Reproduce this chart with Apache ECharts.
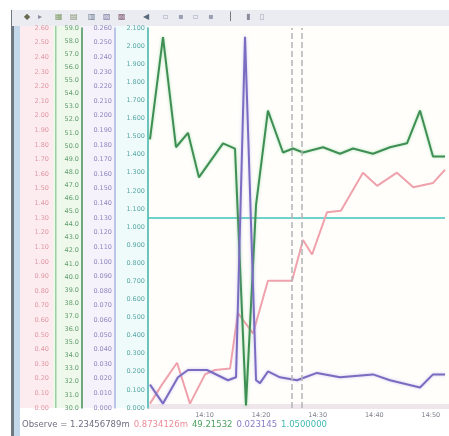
<!DOCTYPE html>
<html>
<head>
<meta charset="utf-8">
<script src="https://cdn.jsdelivr.net/npm/echarts@6/dist/echarts.min.js"></script>
<style>
html,body{margin:0;padding:0;background:#fff;}
#c{width:449px;height:436px;}
</style>
</head>
<body>
<div id="c"></div>
<script>
// ---- data ----
var pinkX  = [0.35, 2.47, 5.13, 7.42, 10.08, 11.85, 14.5, 15.9, 18.56, 21.2, 25.46, 27.4, 29.0, 31.65, 34.1, 38.0, 40.5, 44.0, 46.9, 50.4, 52.5];
var pinkY  = [0.03, 0.16, 0.31, 0.03, 0.23, 0.26, 0.27, 0.65, 0.51, 0.87, 0.87, 1.15, 1.05, 1.34, 1.35, 1.61, 1.52, 1.61, 1.51, 1.54, 1.63];

var greenX = [0.35, 2.65, 4.95, 7.07, 9.0, 13.26, 15.38, 17.32, 19.1, 21.2, 23.86, 25.63, 27.4, 30.94, 33.94, 36.24, 39.77, 42.78, 45.78, 48.08, 50.38, 52.5];
var greenY = [50.5, 58.3, 49.9, 51.0, 47.6, 50.2, 49.8, 30.2, 45.5, 52.7, 49.5, 49.8, 49.5, 49.9, 49.4, 49.8, 49.4, 49.9, 50.2, 52.7, 49.2, 49.2];

var purpleX = [0.35, 2.65, 5.3, 7.07, 10.43, 14.14, 15.56, 17.15, 19.1, 19.8, 21.2, 23.33, 26.34, 29.87, 33.94, 39.77, 42.78, 48.08, 50.38, 52.5];
var purpleY = [0.016, 0.003, 0.021, 0.026, 0.026, 0.019, 0.021, 0.254, 0.019, 0.017, 0.025, 0.021, 0.019, 0.024, 0.021, 0.023, 0.019, 0.014, 0.023, 0.023];

var cyanX = [0, 52.5];
var cyanY = [1.05, 1.05];

var markerX = [25.45, 27.2];

var xTickLabels = ['14:10', '14:20', '14:30', '14:40', '14:50'];

var legendTexts = ['Observe = 1.23456789m', '0.8734126m', '49.21532', '0.023145', '1.0500000'];

var toolbarGlyphs = ['◆', '▸', '▦', '▤', '▥', '▧', '▩', '◀', '▫', '▪', '▫', '▪', '▏', '▮', '▯'];

// ---- chart ----
function zip(xs, ys){ var r=[]; for (var i=0;i<xs.length;i++) r.push([xs[i], ys[i]]); return r; }

var cPink='#f0a2ac', cGreen='#3f8f55', cPurple='#7a6cc0', cCyan='#3fc4bb';

var chart = echarts.init(document.getElementById('c'), null, {renderer:'canvas'});

function yAxis(color, lineColor, offset, min, max, interval, dec){
  return {
    type:'value', position:'left', offset:offset, min:min, max:max, interval:interval,
    axisLine:{show:true, lineStyle:{color:lineColor, width:1.5}},
    axisTick:{show:false},
    splitLine:{show:false},
    axisLabel:{fontSize:6.5, color:color, margin:3, fontFamily:'DejaVu Sans',
      formatter:function(v){ return v.toFixed(dec); }}
  };
}

var toolbarEls = [];
toolbarEls.push({type:'rect', shape:{x:12,y:10,width:437,height:16}, style:{fill:'#ebebf2'}, z:-1});
var tbx = [24,38,55,70,88,103,118,143,163,178,193,208,230,246,260];
var tbc = ['#6a6a50','#8a8aa0','#7a9a60','#7a8a60','#6a7a90','#7a7aa0','#8a6a80','#5a6a7a','#a0a8b8','#9aa0b0','#a0a8b8','#9aa0b0','#5a5a5a','#8a8a9a','#a0a0b0'];
for (var i=0;i<toolbarGlyphs.length;i++){
  toolbarEls.push({type:'text', x:tbx[i], y:13, style:{text:toolbarGlyphs[i], fill:tbc[i], fontSize:8, fontFamily:'DejaVu Sans'}, z:1});
}

var richBase = {fontSize:8.5, fontFamily:'DejaVu Sans', padding:[0,4,0,0]};
function rs(color){ return {fill:color, fontSize:richBase.fontSize, fontFamily:richBase.fontFamily, padding:richBase.padding}; }

var graphics = [
  {type:'rect', shape:{x:11,y:10,width:3,height:426}, style:{fill:'#6f7880'}, z:-1},
  {type:'rect', shape:{x:14,y:10,width:6,height:426}, style:{fill:'#c4d8ec'}, z:-1},
  {type:'rect', shape:{x:20,y:26,width:33,height:382}, style:{fill:'#fdecef'}, z:-2},
  {type:'rect', shape:{x:53,y:26,width:29,height:382}, style:{fill:'#eef9ec'}, z:-2},
  {type:'rect', shape:{x:55,y:26,width:1.5,height:382}, style:{fill:'#9ad0a2'}, z:-1},
  {type:'rect', shape:{x:82,y:26,width:33,height:382}, style:{fill:'#f5f2fc'}, z:-2},
  {type:'rect', shape:{x:115,y:26,width:33,height:382}, style:{fill:'#effbfb'}, z:-2},
  {type:'rect', shape:{x:148,y:26,width:301,height:382}, style:{fill:'#fffefb'}, z:-2},
  {type:'rect', shape:{x:148,y:404,width:301,height:5}, style:{fill:'#eee6ea'}, z:-1},
  {type:'text', x:22, y:420, style:{
      text:'{a|'+legendTexts[0]+'}{b|'+legendTexts[1]+'}{c|'+legendTexts[2]+'}{d|'+legendTexts[3]+'}{e|'+legendTexts[4]+'}',
      rich:{ a:rs('#6e6e80'), b:rs('#ec8c98'), c:rs('#4f9f60'), d:rs('#8a7cc8'), e:rs('#3fb8b0') }}, z:5}
].concat(toolbarEls);

var option = {
  animation:false,
  backgroundColor:'#ffffff',
  grid:{left:148, right:4, top:28, bottom:28, containLabel:false},
  graphic:graphics,
  xAxis:{
    type:'value', min:0, max:52.5, interval:10,
    axisLine:{show:false}, axisTick:{show:false}, splitLine:{show:false},
    axisLabel:{fontSize:6.5, color:'#80808e', margin:4, fontFamily:'DejaVu Sans', showMaxLabel:false, showMinLabel:false,
      formatter:function(v){ var k=Math.round(v/10)-1; return xTickLabels[k]||''; }}
  },
  yAxis:[
    yAxis('#e098a4', '#f2b0b8', 96, 0, 2.6, 0.1, 2),
    yAxis('#5f9c6a', '#3f8f55', 66, 30, 59, 1, 1),
    yAxis('#9088c0', '#a8b4e0', 33, 0, 0.26, 0.01, 3),
    yAxis('#5aa8a4', '#3fc4bb', 0, 0, 2.1, 0.1, 3)
  ],
  series:[
    {type:'line', yAxisIndex:0, data:zip(pinkX,pinkY), symbol:'none', lineStyle:{color:cPink, width:2}, z:3,
      markLine:{silent:true, symbol:'none', label:{show:false},
        lineStyle:{color:'#b4b4b8', type:'dashed', width:1.5},
        data:[{xAxis:markerX[0]},{xAxis:markerX[1]}]}},
    {type:'line', yAxisIndex:1, data:zip(greenX,greenY), symbol:'none', lineStyle:{color:cGreen, width:2, shadowColor:'rgba(90,200,110,0.5)', shadowBlur:3}, z:4},
    {type:'line', yAxisIndex:2, data:zip(purpleX,purpleY), symbol:'none', lineStyle:{color:cPurple, width:2, shadowColor:'rgba(150,140,230,0.5)', shadowBlur:3}, z:4},
    {type:'line', yAxisIndex:3, data:zip(cyanX,cyanY), symbol:'none', lineStyle:{color:cCyan, width:1.5}, z:2}
  ]
};
chart.setOption(option);
</script>
</body>
</html>
